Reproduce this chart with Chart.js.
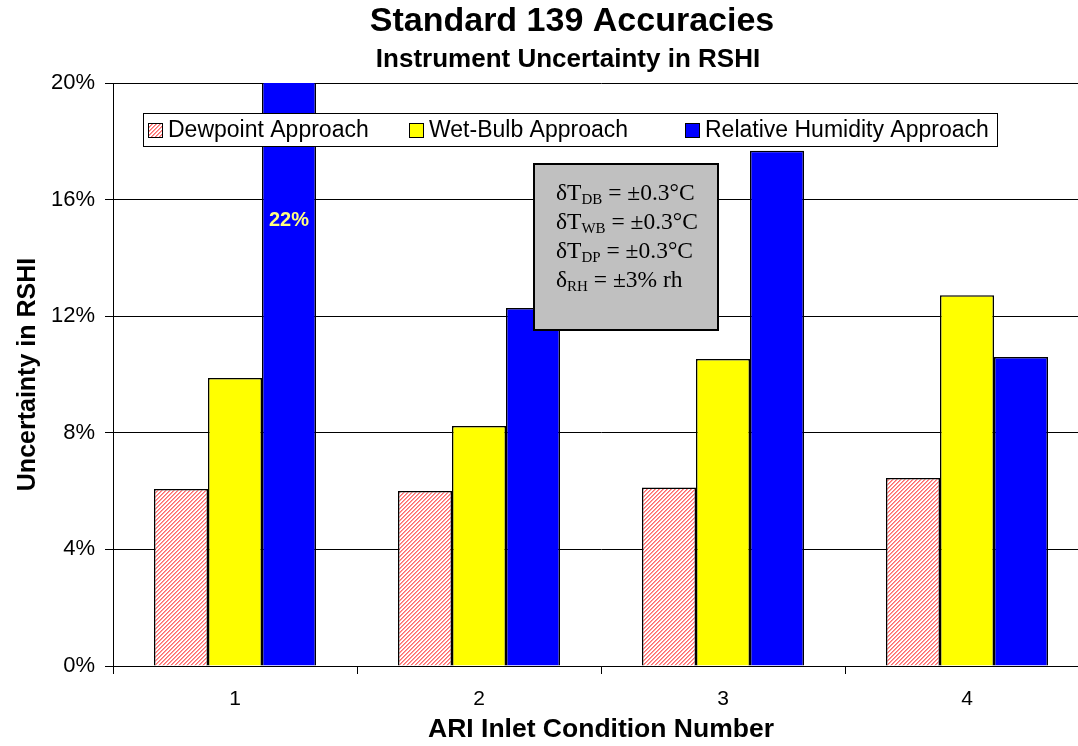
<!DOCTYPE html>
<html>
<head>
<meta charset="utf-8">
<script src="https://cdn.jsdelivr.net/npm/chart.js@4/dist/chart.umd.min.js"></script>
<style>
  html, body { margin: 0; padding: 0; background: #fff; overflow: hidden; }
  #wrap { width: 1078px; height: 746px; overflow: hidden; }
</style>
</head>
<body>
<div id="wrap"><canvas id="accChart" width="1092" height="746"></canvas></div>
<script>
const categories = ["1", "2", "3", "4"];
const dewpoint = [6.07, 6.0, 6.12, 6.45];
const wetBulb = [9.88, 8.23, 10.53, 12.72];
const relHumidity = [22, 12.28, 17.68, 10.6];
const yTicks = [0, 4, 8, 12, 16, 20];
const seriesNames = ["Dewpoint Approach", "Wet-Bulb Approach", "Relative Humidity Approach"];
const boxLines = [
  ["δT", "DB", " = ±0.3°C"],
  ["δT", "WB", " = ±0.3°C"],
  ["δT", "DP", " = ±0.3°C"],
  ["δ", "RH", " = ±3% rh"],
];

// pink diagonal stripes for the dewpoint bars
function makeHatch() {
  const c = document.createElement("canvas");
  c.width = 4;
  c.height = 4;
  const g = c.getContext("2d");
  g.fillStyle = "#ffffff";
  g.fillRect(0, 0, 4, 4);
  for (let i = 0; i < 4; i++) {
    g.fillStyle = "#ff6b6b";
    g.fillRect(i, 3 - i, 1, 1);
    g.fillStyle = "#ff9c9c";
    g.fillRect(i, (4 - i) % 4, 1, 1);
  }
  return g.createPattern(c, "repeat");
}

const ctx = document.getElementById("accChart").getContext("2d");
const hatch = makeHatch();
const fills = [hatch, "#ffff00", "#0000ff"];

const overlay = {
  id: "overlay",
  afterDatasetsDraw(chart) {
    const c = chart.ctx;
    const area = chart.chartArea;
    const ys = chart.scales.y;
    c.save();

    // legend box
    const lx = area.left + 30, ly = area.top + 30, lw = 854, lh = 33;
    c.fillStyle = "#fff";
    c.fillRect(lx, ly, lw, lh);
    c.strokeStyle = "#000";
    c.lineWidth = 1;
    c.strokeRect(lx + 0.5, ly + 0.5, lw, lh);
    c.font = "23px 'Liberation Sans', Arial, sans-serif";
    c.textBaseline = "middle";
    c.textAlign = "left";
    const itemX = [lx + 5, lx + 266, lx + 542];
    seriesNames.forEach((name, i) => {
      const sx = itemX[i], sy = ly + 10;
      c.fillStyle = fills[i];
      c.fillRect(sx, sy, 14, 14);
      c.strokeStyle = "#000";
      c.strokeRect(sx + 0.5, sy + 0.5, 14, 14);
      c.fillStyle = "#000";
      c.fillText(name, sx + 20, ly + lh / 2 + 1);
    });

    // note box
    const bx = 533, by = 163, bw = 186, bh = 168;
    c.fillStyle = "#c0c0c0";
    c.fillRect(bx, by, bw, bh);
    c.strokeStyle = "#000";
    c.lineWidth = 2;
    c.strokeRect(bx + 1, by + 1, bw - 2, bh - 2);
    c.fillStyle = "#000";
    c.textBaseline = "alphabetic";
    boxLines.forEach((parts, i) => {
      const baseY = by + 37 + i * 29;
      let x = bx + 23;
      c.font = "23.5px 'Liberation Serif', 'Times New Roman', serif";
      c.fillText(parts[0], x, baseY);
      x += c.measureText(parts[0]).width;
      c.font = "15px 'Liberation Serif', 'Times New Roman', serif";
      c.fillText(parts[1], x, baseY + 4);
      x += c.measureText(parts[1]).width;
      c.font = "23.5px 'Liberation Serif', 'Times New Roman', serif";
      c.fillText(parts[2], x, baseY);
    });

    // value label on the clipped bar
    const bar = chart.getDatasetMeta(2).data[0];
    c.font = "bold 20px 'Liberation Sans', Arial, sans-serif";
    c.fillStyle = "#ffff80";
    c.textAlign = "center";
    c.textBaseline = "middle";
    c.fillText(relHumidity[0] + "%", bar.x, ys.getPixelForValue(15.3));

    // titles
    c.fillStyle = "#000";
    c.font = "bold 34px 'Liberation Sans', Arial, sans-serif";
    c.fillText("Standard 139 Accuracies", 572, 22);
    c.font = "bold 26px 'Liberation Sans', Arial, sans-serif";
    c.fillText("Instrument Uncertainty in RSHI", 568, 60);
    c.restore();
  },
};

const chart = new Chart(ctx, {
  type: "bar",
  data: {
    labels: categories,
    datasets: [
      { label: seriesNames[0], data: dewpoint, backgroundColor: hatch },
      { label: seriesNames[1], data: wetBulb, backgroundColor: "#ffff00" },
      { label: seriesNames[2], data: relHumidity, backgroundColor: "#0000ff" },
    ],
  },
  options: {
    responsive: false,
    animation: false,
    layout: { padding: { top: 83, right: 3, left: 0, bottom: 0 } },
    datasets: {
      bar: {
        borderColor: "#000",
        borderWidth: 1.5,
        categoryPercentage: 0.664,
        barPercentage: 1,
      },
    },
    scales: {
      x: {
        afterFit: (s) => { s.height = 80; },
        grid: {
          offset: true,
          drawOnChartArea: false,
          tickLength: 8,
          color: "#000",
        },
        border: { color: "#000", width: 1 },
        ticks: {
          color: "#000",
          padding: 13,
          font: { family: "'Liberation Sans', Arial, sans-serif", size: 21 },
        },
        title: {
          display: true,
          text: "ARI Inlet Condition Number",
          color: "#000",
          padding: { top: 0, bottom: 0 },
          font: { family: "'Liberation Sans', Arial, sans-serif", size: 26.5, weight: "bold" },
        },
      },
      y: {
        min: 0,
        max: 20,
        afterFit: (s) => { s.width = 113; },
        afterBuildTicks: (s) => { s.ticks = yTicks.map((v) => ({ value: v })); },
        grid: { color: "#000", tickLength: 8, lineWidth: 1 },
        border: { color: "#000", width: 1 },
        ticks: {
          color: "#000",
          padding: 10,
          callback: (v) => v + "%",
          font: { family: "'Liberation Sans', Arial, sans-serif", size: 22 },
        },
        title: {
          display: true,
          text: "Uncertainty in RSHI",
          color: "#000",
          padding: { top: 13, bottom: 0 },
          font: { family: "'Liberation Sans', Arial, sans-serif", size: 25, weight: "bold" },
        },
      },
    },
    plugins: {
      legend: { display: false },
      title: { display: false },
      tooltip: { enabled: false },
    },
  },
  plugins: [overlay],
});
</script>
</body>
</html>
